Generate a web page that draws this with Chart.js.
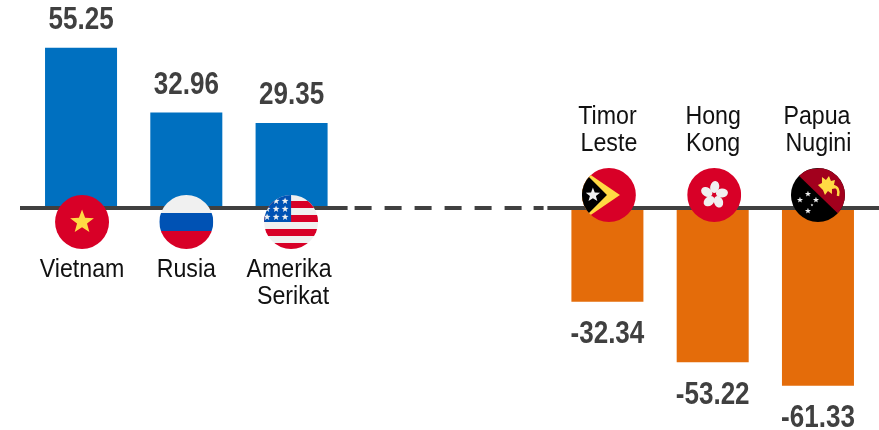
<!DOCTYPE html>
<html>
<head>
<meta charset="utf-8">
<title>Chart</title>
<script src="https://cdn.jsdelivr.net/npm/chart.js@4"></script>
<style>
body { margin: 0; background: #fff; }
canvas { display: block; }
</style>
</head>
<body>
<canvas id="chart" width="879" height="430"></canvas>
<script>
// two empty slots in the middle hold the dashed gap
const categories = ['Vietnam', 'Rusia', 'Amerika Serikat', '', '', 'Timor Leste', 'Hong Kong', 'Papua Nugini'];
const nameLines = [['Vietnam'], ['Rusia'], ['Amerika', 'Serikat'], [], [], ['Timor', 'Leste'], ['Hong', 'Kong'], ['Papua', 'Nugini']];
const values = [55.25, 32.96, 29.35, null, null, -32.34, -53.22, -61.33];
const flags = ['vn', 'ru', 'us', null, null, 'tl', 'hk', 'pg'];

const BLUE = '#0070c0';
const ORANGE = '#e46c0a';
const AXIS = '#404040';
const FLAG_R = 27;
// small sideways nudges, the original isn't perfectly centred on its bars
const flagNudge = [1, 0, -0.5, 0, 0, 1.5, 1.5, 0];
const nameNudge = [[1], [0], [-2.5, 1.5], [], [], [0, 1.5], [0.5, 0.5], [-1, 0.5]];

function star(ctx, x, y, r, color) {
    ctx.fillStyle = color;
    ctx.beginPath();
    for (let i = 0; i < 10; i++) {
        let a = -Math.PI / 2 + i * Math.PI / 5;
        let d = i % 2 ? r * 0.42 : r;
        ctx.lineTo(x + Math.cos(a) * d, y + Math.sin(a) * d);
    }
    ctx.closePath();
    ctx.fill();
}

function poly(ctx, color, pts) {
    ctx.fillStyle = color;
    ctx.beginPath();
    pts.forEach(p => ctx.lineTo(p[0], p[1]));
    ctx.closePath();
    ctx.fill();
}

// no narrow font installed, so squeeze Liberation Sans sideways
function narrowText(ctx, text, x, y, squeeze) {
    ctx.save();
    ctx.translate(x, y);
    ctx.scale(squeeze, 1);
    ctx.fillText(text, 0, 0);
    ctx.restore();
}

// each painter works around 0,0 inside a clipped circle
const painters = {
    vn(ctx) {
        ctx.fillStyle = '#d80027';
        ctx.fillRect(-27, -27, 54, 54);
        star(ctx, 0, 0, 12.5, '#ffda44');
    },
    ru(ctx) {
        ctx.fillStyle = '#f0f0f0';
        ctx.fillRect(-27, -27, 54, 18);
        ctx.fillStyle = '#0052b4';
        ctx.fillRect(-27, -9, 54, 18);
        ctx.fillStyle = '#d80027';
        ctx.fillRect(-27, 9, 54, 18);
    },
    us(ctx) {
        ctx.fillStyle = '#f0f0f0';
        ctx.fillRect(-27, -27, 54, 54);
        ctx.fillStyle = '#d80027';
        [-21, -7, 7, 21].forEach(y => ctx.fillRect(-27, y, 54, 7));
        ctx.fillStyle = '#0052b4';
        ctx.fillRect(-27, -27, 27, 27);
        [[-15, -21], [-6, -21], [-24, -13], [-15, -13], [-6, -13], [-24, -5], [-15, -5], [-6, -5]].forEach(p => {
            star(ctx, p[0], p[1], 3.6, '#f0f0f0');
        });
    },
    tl(ctx) {
        ctx.fillStyle = '#d80027';
        ctx.fillRect(-27, -27, 54, 54);
        poly(ctx, '#ffda44', [[-27, -26], [11, 0], [-27, 26]]);
        poly(ctx, '#000', [[-27, -25], [-2, 0], [-27, 25]]);
        star(ctx, -16, 0, 7.5, '#f0f0f0');
    },
    hk(ctx) {
        ctx.fillStyle = '#d80027';
        ctx.fillRect(-27, -27, 54, 54);
        ctx.fillStyle = '#f0f0f0';
        for (let i = 0; i < 5; i++) {
            ctx.save();
            ctx.rotate(i * Math.PI * 2 / 5);
            ctx.beginPath();
            ctx.ellipse(0.5, -8, 4.5, 6, 0.25, 0, Math.PI * 2);
            ctx.fill();
            ctx.restore();
        }
    },
    pg(ctx) {
        ctx.fillStyle = '#000';
        ctx.fillRect(-27, -27, 54, 54);
        poly(ctx, '#a2001d', [[-24, -24], [30, -30], [30, 28]]);
        [[-10, -1], [-2, 5], [-18, 5], [-10, 16]].forEach(p => star(ctx, p[0], p[1], 3.2, '#f0f0f0'));
        star(ctx, -6, 10, 1.5, '#f0f0f0');
        // bird of paradise
        poly(ctx, '#ffda44', [[0, -10], [4, -12], [4, -18], [8, -15], [11, -19], [13, -14], [17, -15], [16, -10], [19, -7], [14, -6], [14, -1], [10, -4], [7, 0], [5, -5]]);
        ctx.strokeStyle = '#ffda44';
        ctx.lineWidth = 2.5;
        ctx.beginPath();
        ctx.moveTo(15, -9);
        ctx.quadraticCurveTo(22, -8, 20, 1);
        ctx.stroke();
    }
};

const overlayPlugin = {
    id: 'overlay',
    afterDatasetsDraw(chart) {
        const ctx = chart.ctx;
        const meta = chart.getDatasetMeta(0);
        const zero = chart.scales.y.getPixelForValue(0);

        // baseline: solid at both ends, dashed over the empty slots
        const bw = meta.data[2].width;
        const dashFrom = meta.data[2].x + bw / 2 + 27;
        const dashTo = meta.data[5].x - bw / 2 - 24;
        ctx.save();
        ctx.strokeStyle = AXIS;
        ctx.lineWidth = 4;
        ctx.beginPath();
        ctx.moveTo(20, zero);
        ctx.lineTo(dashFrom - 7, zero);
        ctx.moveTo(dashTo, zero);
        ctx.lineTo(879, zero);
        ctx.stroke();
        ctx.setLineDash([17, 13, 17, 13, 17, 13, 17, 13, 17, 13, 17, 12, 10, 5]);
        ctx.beginPath();
        ctx.moveTo(dashFrom, zero);
        ctx.lineTo(dashTo, zero);
        ctx.stroke();
        ctx.restore();

        ctx.textAlign = 'center';
        ctx.textBaseline = 'middle';
        values.forEach((v, i) => {
            if (v === null) return;
            const bar = meta.data[i];
            const up = v > 0;

            // flag sits on the opposite side of the line from the label
            const fy = zero + (up ? 14 : -13);
            ctx.save();
            ctx.translate(bar.x + flagNudge[i], fy);
            ctx.beginPath();
            ctx.arc(0, 0, FLAG_R, 0, Math.PI * 2);
            ctx.clip();
            painters[flags[i]](ctx);
            ctx.restore();

            ctx.fillStyle = '#404040';
            ctx.font = 'bold 31px "Liberation Sans"';
            narrowText(ctx, v.toFixed(2), bar.x, bar.y + (up ? -27 : 33), 0.84);

            ctx.fillStyle = '#111';
            ctx.font = '26.5px "Liberation Sans"';
            const lines = nameLines[i];
            const firstY = zero + (up ? 62 : -91);
            lines.forEach((t, k) => narrowText(ctx, t, bar.x + nameNudge[i][k], firstY + k * 27, 0.875));
        });
    }
};

new Chart(document.getElementById('chart').getContext('2d'), {
    type: 'bar',
    data: {
        labels: categories,
        datasets: [{
            data: values,
            backgroundColor: values.map(v => v > 0 ? BLUE : ORANGE),
            barPercentage: 1,
            categoryPercentage: 0.684
        }]
    },
    options: {
        responsive: false,
        animation: false,
        layout: { padding: { left: 28.4, right: 8.4, top: 0, bottom: 0 } },
        plugins: { legend: { display: false }, tooltip: { enabled: false } },
        scales: {
            x: { display: false },
            y: { display: false, min: -76.55, max: 71.72 }
        }
    },
    plugins: [overlayPlugin]
});
</script>
</body>
</html>
